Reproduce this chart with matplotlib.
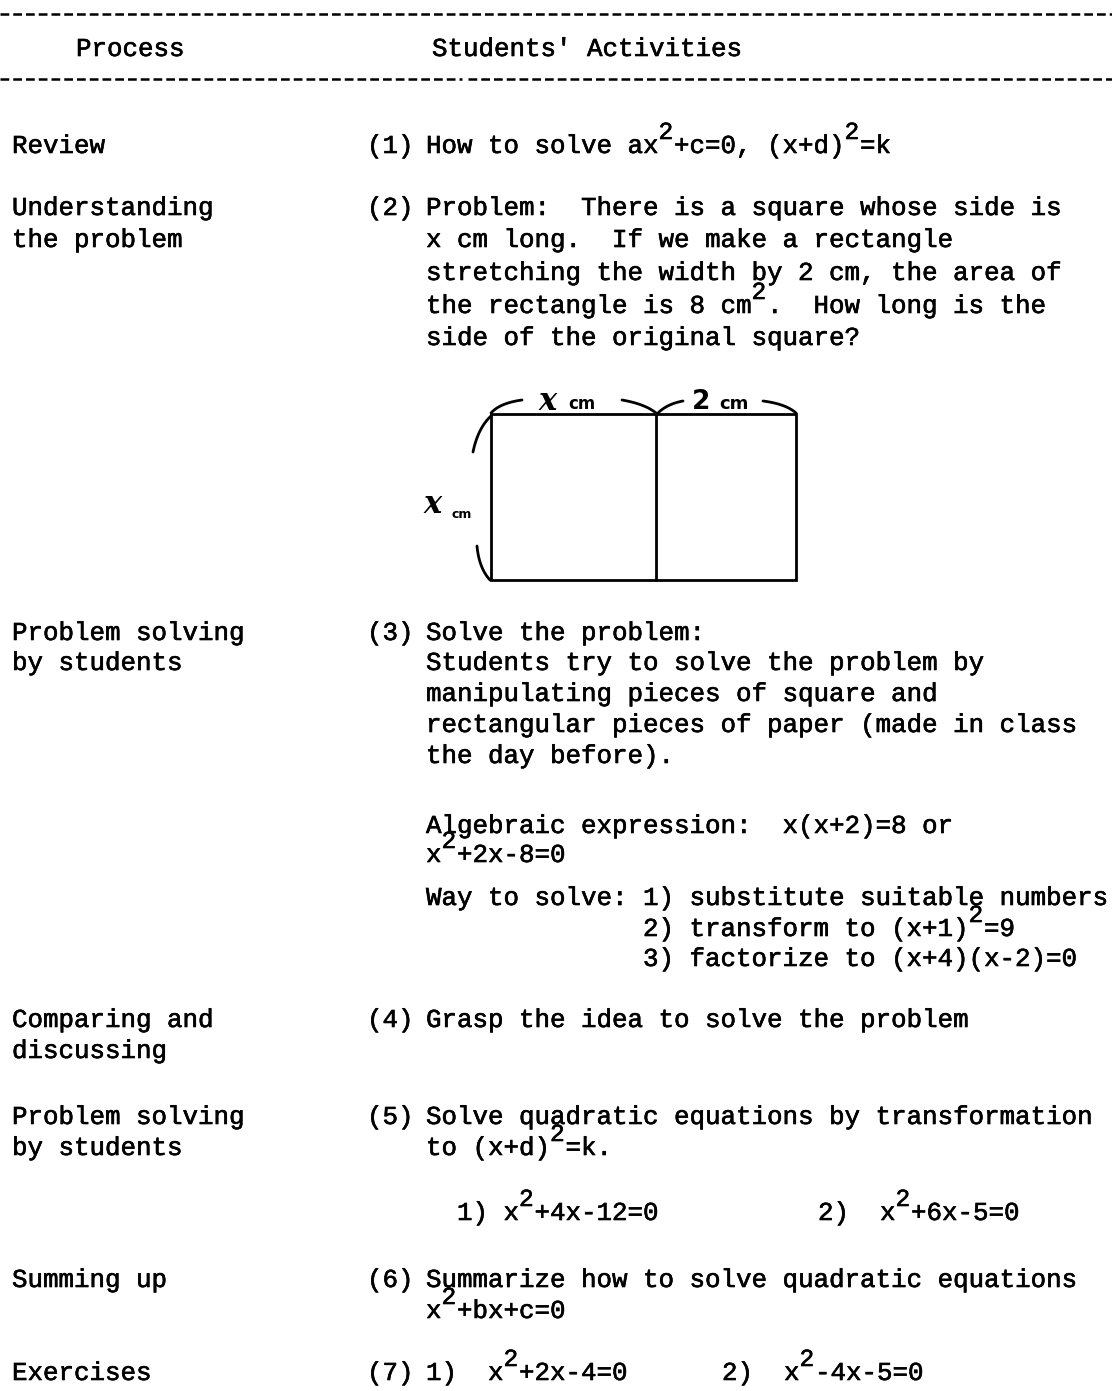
import numpy as np
import matplotlib
matplotlib.use("Agg")
from matplotlib import pyplot as plt
from matplotlib import patheffects as pe

W, H = 1112, 1391
FONT = "Liberation Mono"
FS = 18.6
CW = 0.6 * FS * 100 / 72      # width of one typed cell, px
SUP = 14                      # raise of a superscript, px
INK = [pe.withStroke(linewidth=0.45, foreground="black")]   # typewriter ink

X_PROC = 12
X_NUM = 367
X_TXT = 426

# header
header = [(76, 56, "Process"), (432, 56, "Students' Activities")]

# left column: process names (text, baseline)
process_lines = [
    ("Review", 153),
    ("Understanding", 215),
    ("the problem", 247),
    ("Problem solving", 640),
    ("by students", 670),
    ("Comparing and", 1027),
    ("discussing", 1058),
    ("Problem solving", 1124),
    ("by students", 1155),
    ("Summing up", 1287),
    ("Exercises", 1380),
]

# item numbers
numbers = [("(1)", 153), ("(2)", 215), ("(3)", 640), ("(4)", 1027),
           ("(5)", 1124), ("(6)", 1287), ("(7)", 1380)]

# activities: (x, baseline, text) -- '^' raises the next char
activity_lines = [
    (X_TXT, 153, "How to solve ax^2+c=0, (x+d)^2=k"),
    (X_TXT, 215, "Problem:  There is a square whose side is"),
    (X_TXT, 247, "x cm long.  If we make a rectangle"),
    (X_TXT, 280, "stretching the width by 2 cm, the area of"),
    (X_TXT, 313, "the rectangle is 8 cm^2.  How long is the"),
    (X_TXT, 345, "side of the original square?"),
    (X_TXT, 640, "Solve the problem:"),
    (X_TXT, 670, "Students try to solve the problem by"),
    (X_TXT, 701, "manipulating pieces of square and"),
    (X_TXT, 732, "rectangular pieces of paper (made in class"),
    (X_TXT, 763, "the day before)."),
    (X_TXT, 833, "Algebraic expression:  x(x+2)=8 or"),
    (X_TXT, 862, "x^2+2x-8=0"),
    (X_TXT, 905, "Way to solve: 1) substitute suitable numbers"),
    (X_TXT + 14 * CW, 936, "2) transform to (x+1)^2=9"),
    (X_TXT + 14 * CW, 966, "3) factorize to (x+4)(x-2)=0"),
    (X_TXT, 1027, "Grasp the idea to solve the problem"),
    (X_TXT, 1124, "Solve quadratic equations by transformation"),
    (X_TXT, 1155, "to (x+d)^2=k."),
    (457, 1220, "1) x^2+4x-12=0"),
    (818, 1220, "2)  x^2+6x-5=0"),
    (X_TXT, 1287, "Summarize how to solve quadratic equations"),
    (X_TXT, 1318, "x^2+bx+c=0"),
    (X_TXT, 1380, "1)  x^2+2x-4=0"),
    (722, 1380, "2)  x^2-4x-5=0"),
]

# sketch of the square + strip (px)
rect_left, rect_mid, rect_right = 491, 656, 796
rect_top, rect_bottom = 414, 580


def put(ax, x, y, s, size=FS):
    ax.text(x, y, s, fontfamily=FONT, fontsize=size, va="baseline",
            ha="left", path_effects=INK)


def typed(ax, x, y, s):
    col = 0
    run, run_col = "", 0
    i = 0
    while i < len(s):
        if s[i] == "^":
            if run:
                put(ax, x + run_col * CW, y, run)
            put(ax, x + col * CW, y - SUP, s[i + 1], size=FS * 0.95)
            col += 1
            i += 2
            run, run_col = "", col
            continue
        run += s[i]
        col += 1
        i += 1
    if run:
        put(ax, x + run_col * CW, y, run)


def bez(p0, p1, p2, n=30):
    t = np.linspace(0, 1, n)[:, None]
    p0, p1, p2 = map(np.array, (p0, p1, p2))
    return (1 - t) ** 2 * p0 + 2 * (1 - t) * t * p1 + t ** 2 * p2


fig = plt.figure(figsize=(W / 100, H / 100), dpi=100)
ax = fig.add_axes([0, 0, 1, 1])
ax.set_xlim(0, W)
ax.set_ylim(H, 0)
ax.axis("off")

# dashed rules
dash = (0, (3.5, 1.6))
ax.plot([0, W], [14, 14], color="black", lw=1.8, linestyle=dash)
ax.plot([0, 462], [79, 79], color="black", lw=1.8, linestyle=dash)
ax.plot([468, W], [79, 79], color="black", lw=1.8, linestyle=dash)

for x, y, s in header:
    put(ax, x, y, s)
for s, y in process_lines:
    put(ax, X_PROC, y, s)
for s, y in numbers:
    put(ax, X_NUM, y, s)
for x, y, s in activity_lines:
    typed(ax, x, y, s)

# the drawing
lw = 2.0
ax.plot([rect_left, rect_right, rect_right, rect_left, rect_left],
        [rect_top, rect_top, rect_bottom, rect_bottom, rect_top],
        color="black", lw=lw, solid_joinstyle="miter")
ax.plot([rect_mid, rect_mid], [rect_top, rect_bottom], color="black", lw=lw)

arcs = [
    ((491, 413), (500, 403), (522, 400)),
    ((622, 400), (645, 404), (656, 413)),
    ((658, 413), (667, 404), (683, 401)),
    ((763, 401), (786, 404), (796, 413)),
    ((491, 416), (478, 428), (473, 452)),
    ((477, 546), (479, 568), (490, 580)),
]
for p0, p1, p2 in arcs:
    pts = bez(p0, p1, p2)
    ax.plot(pts[:, 0], pts[:, 1], color="black", lw=lw, solid_capstyle="round")

hand = dict(fontfamily="DejaVu Serif", style="italic", fontweight="bold",
            color="black", va="baseline")
small = dict(fontfamily="DejaVu Sans", fontweight="bold", color="black",
             va="baseline")
ax.text(539, 410, "x", fontsize=22, **hand)
ax.text(568, 409, "cm", fontsize=12, **small)
ax.text(692, 409, "2", fontsize=19, fontfamily="DejaVu Sans", color="black",
        va="baseline", fontweight="bold")
ax.text(719, 409, "cm", fontsize=13, **small)
ax.text(424, 513, "x", fontsize=22, **hand)
ax.text(452, 518, "cm", fontsize=9, **small)

fig.savefig("out.png", dpi=100, facecolor="white")
